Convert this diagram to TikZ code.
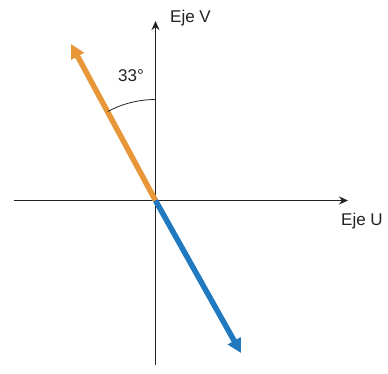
\documentclass[tikz,border=0pt]{standalone}
\usepackage{fontspec}
\setmainfont{Liberation Sans}
\usetikzlibrary{arrows.meta}
\definecolor{axiscol}{HTML}{222222}
\definecolor{orangevec}{HTML}{E8963A}
\definecolor{bluevec}{HTML}{2179C0}
\begin{document}
\begin{tikzpicture}[x=1pt,y=-1pt,
  axis/.style={draw=axiscol,line width=1.5pt,-{Stealth[length=9pt,width=8pt]}},
  vec/.style={line width=5.5pt,-{Triangle[length=14pt,width=14pt]}},
  lbl/.style={font=\fontsize{17}{17}\selectfont,text=axiscol,inner sep=0pt}]
\useasboundingbox (0,0) rectangle (388,373);
\coordinate (O) at (155.5,200.5);
\coordinate (uL) at (14,200.5);
\coordinate (uR) at (348,200.5);
\coordinate (vB) at (155.5,365);
\coordinate (vT) at (155.5,21);
\coordinate (otip) at (71,44);
\coordinate (btip) at (241,353);
\draw[axis] (uL) -- (uR);
\draw[axis] (vB) -- (vT);
\draw[vec,orangevec] (O) -- (otip);
\draw[vec,bluevec] (O) -- (btip);
\draw[axiscol,line width=0.8pt] (155.5,99.5) arc[start angle=-90,end angle=-118.2,radius=101];
\node[lbl] (ang) at (131,76) {33°};
\node[lbl,anchor=west] (ev) at (170,18) {Eje V};
\node[lbl,anchor=west] (eu) at (341,221.5) {Eje U};
\end{tikzpicture}
\end{document}
